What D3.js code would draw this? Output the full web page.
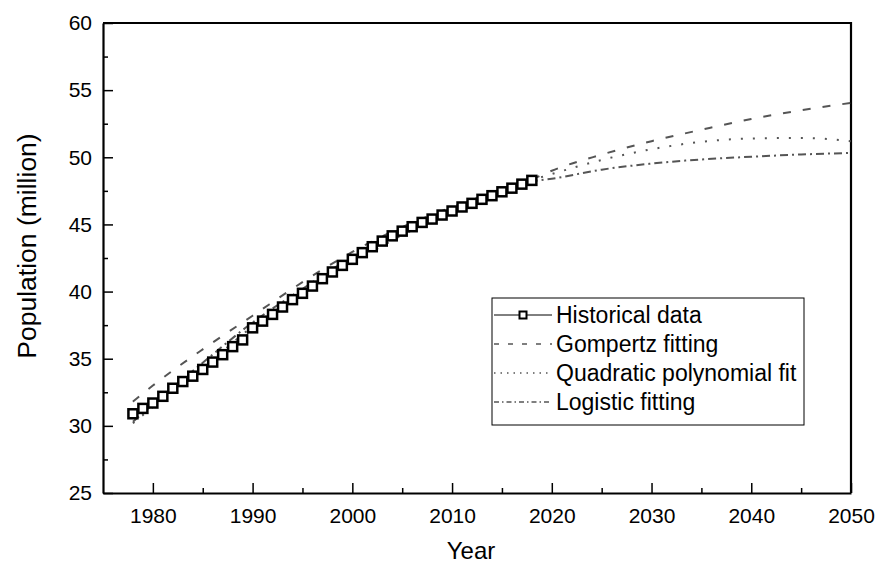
<!DOCTYPE html>
<html>
<head>
<meta charset="utf-8">
<script src="https://cdn.jsdelivr.net/npm/d3@7"></script>
<style>
  body { margin: 0; background: #fff; }
  svg text { font-family: "Liberation Sans", Arial, sans-serif; fill: #000; }
</style>
</head>
<body>
<svg id="chart"></svg>
<script>
// historical population (million), 1978-2018
const years = [1978, 1979, 1980, 1981, 1982, 1983, 1984, 1985, 1986, 1987,
  1988, 1989, 1990, 1991, 1992, 1993, 1994, 1995, 1996, 1997,
  1998, 1999, 2000, 2001, 2002, 2003, 2004, 2005, 2006, 2007,
  2008, 2009, 2010, 2011, 2012, 2013, 2014, 2015, 2016, 2017, 2018];
const historical = [30.9, 31.3, 31.7, 32.2, 32.8, 33.3, 33.7, 34.2, 34.75, 35.3,
  35.9, 36.4, 37.3, 37.8, 38.3, 38.85, 39.4, 39.87, 40.41, 40.96,
  41.46, 41.95, 42.4, 42.9, 43.34, 43.76, 44.15, 44.5, 44.83, 45.15,
  45.4, 45.7, 46.0, 46.3, 46.57, 46.87, 47.14, 47.43, 47.7, 48.0, 48.28];

// fitted curves, read at these years
const fitYears = [1978, 1980, 1985, 1990, 1995, 2000, 2005, 2010, 2015, 2018, 2020, 2025, 2030, 2035, 2040, 2045, 2050];
const gompertz  = [31.8, 33.0, 35.7, 38.2, 40.7, 42.95, 44.8, 46.3, 47.6, 48.35, 49.0, 50.2, 51.2, 52.05, 52.85, 53.5, 54.05];
const quadratic = [30.2, 31.4, 34.3, 37.4, 40.0, 42.15, 44.2, 45.95, 47.5, 48.3, 48.75, 49.8, 50.6, 51.15, 51.4, 51.44, 51.2];
const logistic  = [30.3, 31.6, 34.7, 37.7, 40.2, 42.6, 44.6, 46.1, 47.4, 48.2, 48.4, 49.08, 49.53, 49.84, 50.04, 50.21, 50.32];

const xTicks = [1980, 1990, 2000, 2010, 2020, 2030, 2040, 2050];
const yTicks = [25, 30, 35, 40, 45, 50, 55, 60];

const W = 879, H = 568;
const margin = { top: 23, right: 28, bottom: 75, left: 103 };
const width = W - margin.left - margin.right;
const height = H - margin.top - margin.bottom;

const svg = d3.select('#chart').attr('width', W).attr('height', H);
const g = svg.append('g').attr('transform', `translate(${margin.left},${margin.top})`);

const x = d3.scaleLinear().domain([1975, 2050]).range([0, width]);
const y = d3.scaleLinear().domain([25, 60]).range([height, 0]);

// minor ticks
g.append('g')
  .attr('transform', `translate(0,${height})`)
  .call(d3.axisBottom(x).tickValues(d3.range(1985, 2050, 10)).tickSize(-5).tickSizeOuter(0).tickFormat(''))
  .call(a => a.select('.domain').remove());
g.append('g')
  .call(d3.axisLeft(y).tickValues(d3.range(27.5, 60, 5)).tickSize(-5).tickSizeOuter(0).tickFormat(''))
  .call(a => a.select('.domain').remove());

// X axis
const xAxis = g.append('g')
  .attr('transform', `translate(0,${height})`)
  .call(d3.axisBottom(x).tickValues(xTicks).tickFormat(d3.format('d')).tickSize(-10).tickSizeOuter(0).tickPadding(15));
// Y axis
const yAxis = g.append('g')
  .call(d3.axisLeft(y).tickValues(yTicks).tickSize(-10).tickSizeOuter(0).tickPadding(11));

g.selectAll('.tick line').attr('stroke', '#000').attr('stroke-width', 1.5);
[xAxis, yAxis].forEach(a => {
  a.selectAll('text').style('font-size', '21px');
  a.select('.domain').attr('stroke-width', 2.2);
});

// top and right frame
g.append('path')
  .attr('d', `M0,0H${width}V${height}`)
  .attr('fill', 'none')
  .attr('stroke', '#000')
  .attr('stroke-width', 2.2);

// axis titles
svg.append('text')
  .attr('x', margin.left + width / 2 - 6)
  .attr('y', 559)
  .attr('text-anchor', 'middle')
  .style('font-size', '24px')
  .text('Year');
svg.append('text')
  .attr('transform', 'translate(36,246) rotate(-90)')
  .attr('text-anchor', 'middle')
  .style('font-size', '26.5px')
  .text('Population (million)');

// fitted curves
const fits = [
  { name: 'Gompertz fitting', values: gompertz, dash: '8,12', legendDash: '5,9' },
  { name: 'Quadratic polynomial fit', values: quadratic, dash: '2,10', legendDash: '1.5,5' },
  { name: 'Logistic fitting', values: logistic, dash: '8,4,2,4', legendDash: '5,3,1.5,3' }
];

const line = d3.line()
  .x(d => x(d[0]))
  .y(d => y(d[1]))
  .curve(d3.curveMonotoneX);

fits.forEach(f => {
  g.append('path')
    .datum(fitYears.map((yr, i) => [yr, f.values[i]]))
    .attr('fill', 'none')
    .attr('stroke', '#555')
    .attr('stroke-width', 2)
    .attr('stroke-dasharray', f.dash)
    .attr('d', line);
});

// historical data
const hist = years.map((yr, i) => [yr, historical[i]]);
g.append('path')
  .datum(hist)
  .attr('fill', 'none')
  .attr('stroke', '#000')
  .attr('stroke-width', 1)
  .attr('d', d3.line().x(d => x(d[0])).y(d => y(d[1])));

g.selectAll('.pt')
  .data(hist)
  .enter()
  .append('rect')
  .attr('class', 'pt')
  .attr('x', d => x(d[0]) - 4.5)
  .attr('y', d => y(d[1]) - 4.5)
  .attr('width', 9)
  .attr('height', 9)
  .attr('fill', '#fff')
  .attr('stroke', '#000')
  .attr('stroke-width', 2.5);

// legend
const legend = svg.append('g').attr('transform', 'translate(492,298)');
legend.append('rect')
  .attr('width', 312)
  .attr('height', 127)
  .attr('fill', '#fff')
  .attr('stroke', '#000')
  .attr('stroke-width', 1);

const rowY = [17, 46, 75, 104];
const items = [{ name: 'Historical data' }].concat(fits);

items.forEach((it, i) => {
  const row = legend.append('g').attr('transform', `translate(0,${rowY[i]})`);
  if (i === 0) {
    row.append('line').attr('x1', 2).attr('x2', 60).attr('stroke', '#000').attr('stroke-width', 1);
    row.append('rect').attr('x', 27.5).attr('y', -3.5).attr('width', 7).attr('height', 7)
      .attr('fill', '#fff').attr('stroke', '#000').attr('stroke-width', 2);
  } else {
    row.append('line').attr('x1', 2).attr('x2', 60)
      .attr('stroke', '#555').attr('stroke-width', 1.3)
      .attr('stroke-dasharray', it.legendDash);
  }
  row.append('text')
    .attr('x', 64)
    .attr('dy', '0.35em')
    .style('font-size', '23px')
    .text(it.name);
});
</script>
</body>
</html>
